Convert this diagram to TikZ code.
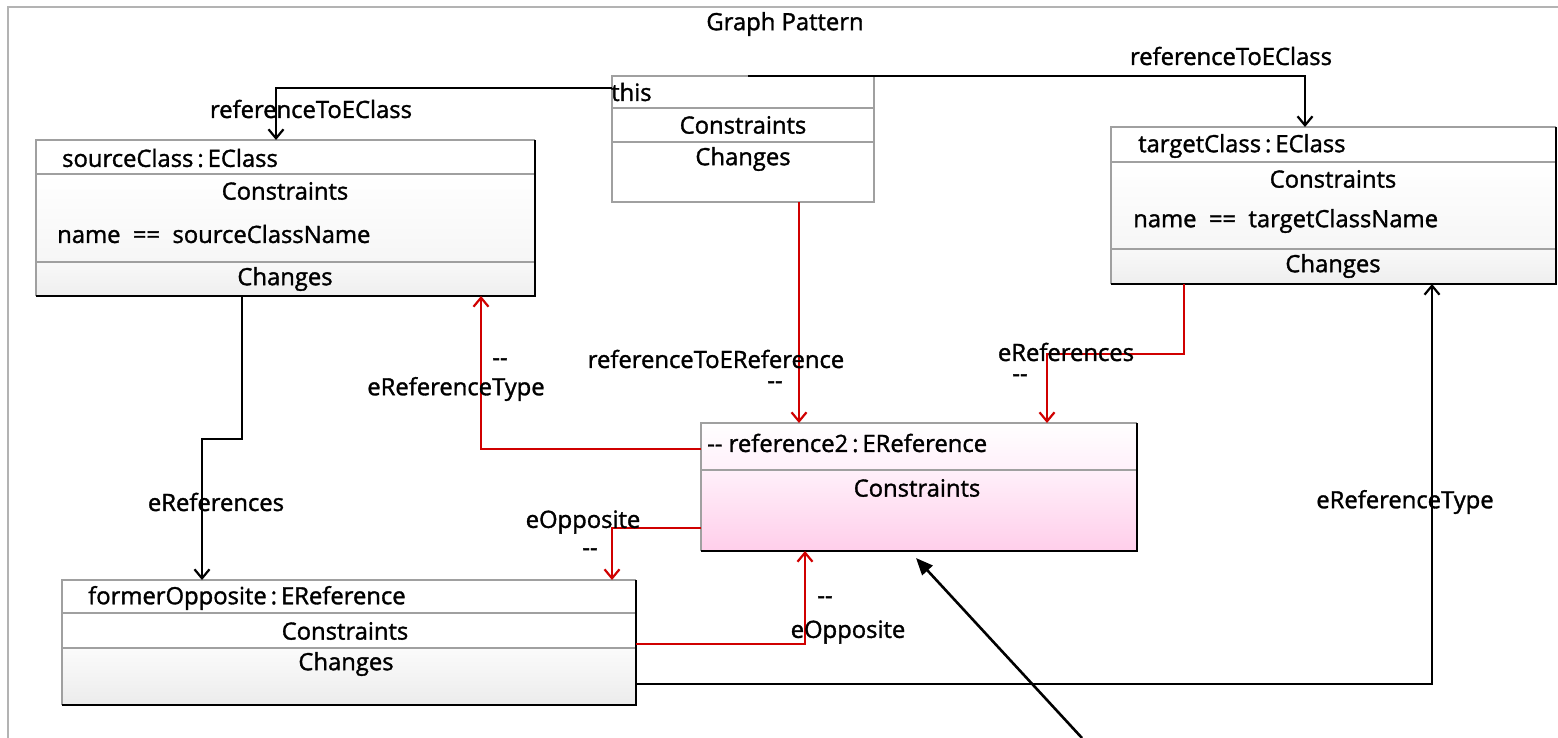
\documentclass[tikz,border=0pt]{standalone}
\usepackage{fontspec}
\setmainfont[FakeBold=1.4]{Open Sans}
\usetikzlibrary{arrows.meta}

\definecolor{rimgray}{RGB}{160,160,160}
\definecolor{linkred}{RGB}{208,0,0}
\definecolor{pinklo}{RGB}{255,206,234}
\definecolor{pinkhi}{RGB}{255,240,250}
\newcommand{\dd}{-{}-}

\tikzset{
  boxarea/.style={rectangle, inner sep=0pt, outer sep=0pt},
  txt/.style={inner sep=0pt, font=\fontsize{23.8}{27}\selectfont, text=black},
  ltxt/.style={txt, anchor=west},
  conn/.style={line width=2.8pt, draw=black,
    -{Straight Barb[length=9pt,width=15pt,line width=2.2pt]}},
  rconn/.style={conn, draw=linkred, line width=2.6pt},
  sep/.style={draw=rimgray, line width=1.6pt},
  rim/.style={draw=rimgray, line width=1.6pt},
  edge/.style={draw=black, line width=2.8pt},
  note/.style={line width=2.6pt, -{Triangle[length=17pt,width=14pt]}}
}

\begin{document}
\begin{tikzpicture}[x=1pt,y=-1pt]
\useasboundingbox (0,0) rectangle (1558,738);
\fill[white] (0,0) rectangle (1558,738);

% pattern frame
\draw[draw=rimgray!80, line width=1.6pt] (8,738) -- (8,7) -- (1558,7);
\node[txt] (title) at (785,24) {Graph Pattern};

% ---- this ----
\node[boxarea, minimum width=262pt, minimum height=126pt, anchor=north west] (this) at (612,76) {};
\fill[white] (612,76) rectangle (874,202);
\draw[sep] (612,108) -- (874,108) (612,142) -- (874,142);
\draw[rim] (612,76) rectangle (874,202);
\node[ltxt] (thisname) at (611,92) {this};
\node[txt] (thiscon) at (743,125) {Constraints};
\node[txt] (thischg) at (743,159) {Changes};

% ---- sourceClass ----
\node[boxarea, minimum width=499pt, minimum height=156pt, anchor=north west] (src) at (36,140) {};
\fill[white] (36,140) rectangle (535,174);
\shade[top color=white, bottom color=gray!7] (36,174) rectangle (535,262);
\shade[top color=gray!5, bottom color=gray!13] (36,262) rectangle (535,296);
\draw[sep] (36,174) -- (535,174) (36,262) -- (535,262);
\draw[rim] (36,296) -- (36,140) -- (535,140);
\draw[edge] (535,140) -- (535,296) -- (36,296);
\node[ltxt] (srcname) at (62,158) {sourceClass\,:\,EClass};
\node[txt] (srccon) at (285,191) {Constraints};
\node[ltxt] (srcexpr) at (57,234) {name\ \ ==\ \ sourceClassName};
\node[txt] (srcchg) at (285,279) {Changes};

% ---- targetClass ----
\node[boxarea, minimum width=445pt, minimum height=157pt, anchor=north west] (tgt) at (1111,127) {};
\fill[white] (1111,127) rectangle (1556,162);
\shade[top color=white, bottom color=gray!7] (1111,162) rectangle (1556,249);
\shade[top color=gray!5, bottom color=gray!13] (1111,249) rectangle (1556,284);
\draw[sep] (1111,162) -- (1556,162) (1111,249) -- (1556,249);
\draw[rim] (1111,284) -- (1111,127) -- (1556,127);
\draw[edge] (1556,127) -- (1556,284) -- (1111,284);
\node[ltxt] (tgtname) at (1138,146) {targetClass\,:\,EClass};
\node[txt] (tgtcon) at (1333,179) {Constraints};
\node[ltxt] (tgtexpr) at (1133,221) {name\ \ ==\ \ targetClassName};
\node[txt] (tgtchg) at (1333,266) {Changes};

% ---- reference2 (to be created) ----
\node[boxarea, minimum width=436pt, minimum height=128pt, anchor=north west] (ref2) at (701,423) {};
\shade[top color=white, bottom color=pinkhi] (701,423) rectangle (1137,470);
\shade[top color=pinkhi, bottom color=pinklo] (701,470) rectangle (1137,551);
\draw[sep] (701,470) -- (1137,470);
\draw[rim] (701,551) -- (701,423) -- (1137,423);
\draw[edge] (1137,423) -- (1137,551) -- (701,551);
\node[ltxt] (refname) at (707,443) {\dd\ reference2\,:\,EReference};
\node[txt] (refcon) at (917,488) {Constraints};

% ---- formerOpposite ----
\node[boxarea, minimum width=574pt, minimum height=125pt, anchor=north west] (fo) at (62,580) {};
\fill[white] (62,580) rectangle (636,613);
\fill[white] (62,613) rectangle (636,648);
\shade[top color=gray!3, bottom color=gray!15] (62,648) rectangle (636,705);
\draw[sep] (62,613) -- (636,613) (62,648) -- (636,648);
\draw[rim] (62,705) -- (62,580) -- (636,580);
\draw[edge] (636,580) -- (636,705) -- (62,705);
\node[ltxt] (foname) at (88,598) {formerOpposite\,:\,EReference};
\node[txt] (focon) at (345,631) {Constraints};
\node[txt] (fochg) at (346,664) {Changes};

% ---- connectors ----
\draw[conn] ([yshift=-12pt]this.north west) -| ([xshift=240pt]src.north west);
\node[txt] (l1) at (311,109) {referenceToEClass};

\draw[conn] ([xshift=136pt]this.north west) -| ([xshift=194pt]tgt.north west);
\node[txt] (l2) at (1231,56) {referenceToEClass};

\draw[rconn] ([xshift=56pt]this.south) -- ([xshift=56pt]this.south |- ref2.north);
\node[txt] (l3) at (716,359) {referenceToEReference};
\node[txt] (l3d) at (775,385) {\dd};

\draw[rconn] ([yshift=-26pt]ref2.north west) -| ([xshift=445pt]src.south west);
\node[txt] (l4d) at (500,362) {\dd};
\node[txt] (l4) at (456,389) {eReferenceType};

\draw[rconn] ([xshift=73pt]tgt.south west) -- ++(0,70) -| ([xshift=346pt]ref2.north west);
\node[txt] (l5) at (1066,352) {eReferences};
\node[txt] (l5d) at (1020,378) {\dd};

\draw[conn] ([xshift=206pt]src.south west) -- ++(0,143) -| ([xshift=140pt]fo.north west);
\node[txt] (l6) at (216,502) {eReferences};

\draw[rconn] ([yshift=-105pt]ref2.north west) -| ([xshift=550pt]fo.north west);
\node[txt] (l7) at (583,522) {eOpposite};
\node[txt] (l7d) at (590,552) {\dd};

\draw[rconn] ([yshift=-64pt]fo.north east) -| ([xshift=104pt]ref2.south west);
\node[txt] (l8d) at (825,600) {\dd};
\node[txt] (l8) at (848,632) {eOpposite};

\draw[conn] ([yshift=-104pt]fo.north east) -| ([xshift=321pt]tgt.south west);
\node[txt] (l9) at (1405,502) {eReferenceType};

% pointer from below
\coordinate (ptr) at (1082,738);
\draw[note] (ptr) -- ([xshift=-3pt,yshift=-7pt]ref2.south);
\end{tikzpicture}
\end{document}
